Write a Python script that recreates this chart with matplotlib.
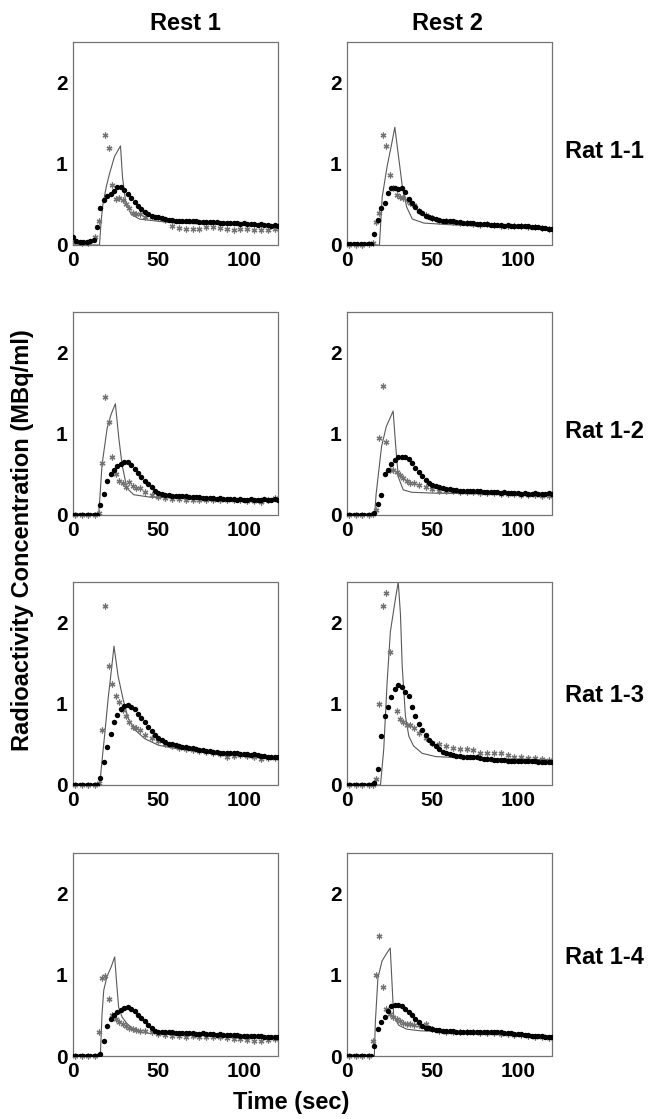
import numpy as np
import matplotlib.pyplot as plt

plt.rcParams['font.family'] = ['Liberation Sans', 'DejaVu Sans']
plt.rcParams['font.weight'] = 'bold'

# sampling times (sec)
DOT_T = list(range(0, 121, 2))
STAR_T = [1, 5, 9, 13, 15, 17, 19, 21, 23, 25, 27, 29, 31, 33, 35, 37, 39, 42, 46, 50,
          54, 58, 62, 66, 70, 74, 78, 82, 86, 90, 94, 98, 102, 106, 110, 114, 118]
nan = float('nan')

columns = ['Rest 1', 'Rest 2']
rats = ['Rat 1-1', 'Rat 1-2', 'Rat 1-3', 'Rat 1-4']

# ---- Rat 1-1, Rest 1
r11a_line_t = [0, 15.5, 16.5, 17.5, 19.5, 21.4, 24.3, 27.8, 29, 30.7, 34, 38.8, 46.6, 60, 90, 120]
r11a_line_y = [0, 0, 0.3, 0.5, 0.72, 0.88, 1.09, 1.22, 0.83, 0.55, 0.38, 0.32, 0.3, 0.27, 0.25, 0.23]
r11a_dots = [0.10, 0.05, 0.04, 0.04, 0.04, 0.05, 0.06, 0.22, 0.45, 0.56, 0.60, 0.63, 0.67, 0.71, 0.72,
             0.68, 0.63, 0.58, 0.53, 0.48, 0.44, 0.41, 0.38, 0.36, 0.35, 0.34, 0.33, 0.32, 0.31, 0.31,
             0.30, 0.30, 0.30, 0.30, 0.29, 0.29, 0.29, 0.28, 0.28, 0.28, 0.28, 0.28, 0.28, 0.27, 0.27,
             0.27, 0.27, 0.27, 0.27, 0.26, 0.27, 0.26, 0.26, 0.26, 0.25, 0.26, 0.25, 0.25, 0.24, 0.25, 0.24]
r11a_stars = [0.04, 0.03, 0.03, 0.10, 0.30, nan, 1.35, 1.20, 0.74, 0.57, 0.58, 0.55, 0.50, 0.45, 0.40,
              0.38, 0.38, 0.35, 0.34, 0.33, 0.31, 0.24, 0.21, 0.20, 0.20, 0.20, 0.22, 0.22, 0.21, 0.20,
              0.18, 0.20, 0.20, 0.18, 0.19, 0.18, 0.20]

# ---- Rat 1-1, Rest 2
r11b_line_t = [0, 19, 20.6, 23.5, 25.9, 28, 30.4, 32.4, 34.9, 38.2, 45, 60, 90, 120]
r11b_line_y = [0, 0, 0.59, 0.97, 1.22, 1.45, 1.05, 0.72, 0.47, 0.32, 0.27, 0.25, 0.22, 0.2]
r11b_dots = [0.01, 0.01, 0.01, 0.01, 0.01, 0.01, 0.01, 0.01, 0.13, 0.31, 0.46, 0.52, 0.64, 0.70, 0.70,
             0.69, 0.70, 0.65, 0.57, 0.52, 0.47, 0.42, 0.39, 0.36, 0.35, 0.33, 0.32, 0.31, 0.30, 0.30,
             0.29, 0.29, 0.28, 0.28, 0.27, 0.27, 0.27, 0.27, 0.26, 0.26, 0.26, 0.26, 0.25, 0.25, 0.25,
             0.25, 0.24, 0.25, 0.24, 0.24, 0.24, 0.23, 0.23, 0.23, 0.22, 0.22, 0.22, 0.21, 0.21, 0.20, 0.20]
r11b_stars = [0.0, 0.0, 0.0, 0.01, 0.02, 0.28, 0.40, 1.35, 1.22, 0.86, 0.70, 0.62, 0.59, 0.58, 0.55,
              0.52, 0.49, 0.42, 0.37, 0.33, 0.30, 0.29, 0.28, 0.27, 0.27, 0.26, 0.25, 0.26, 0.25, 0.24,
              0.24, 0.23, 0.23, 0.22, 0.22, 0.21, 0.20]

# ---- Rat 1-2, Rest 1
r12a_line_t = [0, 15, 16, 17, 20, 22.3, 24.8, 26.8, 28.7, 31.6, 35.5, 45, 60, 90, 120]
r12a_line_y = [0, 0, 0.3, 0.62, 1.07, 1.24, 1.37, 0.95, 0.62, 0.33, 0.25, 0.22, 0.21, 0.2, 0.2]
r12a_dots = [0.0, 0.0, 0.0, 0.0, 0.0, 0.0, 0.0, 0.0, 0.12, 0.26, 0.42, 0.50, 0.55, 0.60, 0.63,
             0.65, 0.65, 0.62, 0.57, 0.52, 0.47, 0.42, 0.38, 0.34, 0.30, 0.27, 0.26, 0.25, 0.25, 0.24,
             0.24, 0.23, 0.23, 0.23, 0.22, 0.22, 0.22, 0.22, 0.21, 0.21, 0.21, 0.21, 0.20, 0.21, 0.20,
             0.20, 0.20, 0.20, 0.19, 0.20, 0.19, 0.19, 0.20, 0.19, 0.19, 0.19, 0.20, 0.19, 0.19, 0.20, 0.19]
r12a_stars = [0.0, 0.0, 0.0, 0.0, 0.03, 0.64, 1.45, 1.15, 0.72, 0.50, 0.42, 0.39, 0.35, 0.41, 0.36,
              0.33, 0.33, 0.28, 0.25, 0.22, 0.21, 0.20, 0.20, 0.19, 0.18, 0.19, 0.18, 0.18, 0.19, 0.18,
              0.18, 0.18, 0.17, 0.17, 0.16, 0.18, 0.21]

# ---- Rat 1-2, Rest 2
r12b_line_t = [0, 16.2, 17, 18.2, 20.2, 23, 27, 28.4, 30, 32.9, 37.8, 50, 80, 120]
r12b_line_y = [0, 0, 0.25, 0.47, 0.84, 1.09, 1.28, 0.88, 0.47, 0.31, 0.28, 0.27, 0.26, 0.25]
r12b_dots = [0.0, 0.0, 0.0, 0.0, 0.0, 0.0, 0.0, 0.0, 0.02, 0.14, 0.25, 0.50, 0.55, 0.63, 0.68,
             0.71, 0.72, 0.71, 0.69, 0.64, 0.58, 0.53, 0.48, 0.43, 0.39, 0.37, 0.36, 0.34, 0.33, 0.32,
             0.32, 0.31, 0.31, 0.30, 0.30, 0.30, 0.29, 0.29, 0.29, 0.29, 0.28, 0.28, 0.28, 0.28, 0.28,
             0.27, 0.28, 0.27, 0.27, 0.27, 0.27, 0.26, 0.27, 0.26, 0.26, 0.27, 0.26, 0.26, 0.26, 0.27, 0.26]
r12b_stars = [0.0, 0.0, 0.0, 0.0, 0.01, 0.06, 0.95, 1.59, 0.90, 0.55, 0.55, 0.53, 0.49, 0.45, 0.42,
              0.40, 0.40, 0.37, 0.34, 0.32, 0.30, 0.29, 0.29, 0.28, 0.28, 0.28, 0.27, 0.27, 0.27, 0.26,
              0.26, 0.26, 0.25, 0.25, 0.25, 0.24, 0.24]

# ---- Rat 1-3, Rest 1
r13a_line_t = [0, 15.7, 16.6, 18.6, 20.5, 22.5, 24, 26.4, 29.4, 32.3, 36.2, 42, 50, 59.7, 75, 95, 120]
r13a_line_y = [0, 0, 0.22, 0.63, 1.05, 1.42, 1.71, 1.34, 1.05, 0.82, 0.68, 0.57, 0.49, 0.45, 0.41, 0.37, 0.32]
r13a_dots = [0.0, 0.0, 0.0, 0.0, 0.0, 0.0, 0.0, 0.0, 0.09, 0.28, 0.47, 0.63, 0.77, 0.86, 0.93,
             0.97, 0.98, 0.96, 0.93, 0.88, 0.82, 0.77, 0.72, 0.66, 0.61, 0.58, 0.55, 0.53, 0.51, 0.50,
             0.49, 0.48, 0.47, 0.47, 0.46, 0.45, 0.44, 0.43, 0.43, 0.42, 0.42, 0.41, 0.41, 0.40, 0.40,
             0.40, 0.39, 0.39, 0.39, 0.38, 0.38, 0.38, 0.37, 0.38, 0.37, 0.36, 0.36, 0.35, 0.35, 0.34, 0.34]
r13a_stars = [0.0, 0.0, 0.0, 0.0, 0.02, 0.68, 2.21, 1.46, 1.24, 1.10, 1.02, 0.92, 0.85, 0.77, 0.72,
              0.70, 0.68, 0.61, 0.58, 0.54, 0.51, 0.48, 0.46, 0.44, 0.43, 0.42, 0.41, 0.40, 0.38, 0.35,
              0.36, 0.37, 0.36, 0.35, 0.32, 0.33, 0.33]

# ---- Rat 1-3, Rest 2
r13b_line_t = [0, 19.6, 21.5, 23.5, 25.4, 28.4, 30, 31.3, 32.3, 34.2, 36.2, 39, 44, 51.9, 71.4, 120]
r13b_line_y = [0, 0, 0.44, 1.27, 1.89, 2.3, 2.5, 2.1, 1.47, 0.85, 0.6, 0.48, 0.39, 0.35, 0.33, 0.31]
r13b_dots = [0.0, 0.0, 0.0, 0.0, 0.0, 0.0, 0.0, 0.0, 0.03, 0.20, 0.60, 0.85, 0.96, 1.08, 1.18,
             1.23, 1.21, 1.15, 1.10, 0.96, 0.85, 0.75, 0.68, 0.62, 0.56, 0.52, 0.48, 0.44, 0.41, 0.39,
             0.38, 0.37, 0.36, 0.36, 0.35, 0.35, 0.35, 0.34, 0.34, 0.33, 0.32, 0.32, 0.32, 0.31, 0.31,
             0.31, 0.31, 0.30, 0.30, 0.30, 0.30, 0.30, 0.29, 0.29, 0.29, 0.29, 0.28, 0.28, 0.28, 0.28, 0.28]
r13b_stars = [0.0, 0.0, 0.0, 0.0, 0.0, 0.08, 1.00, 2.20, 2.37, 1.64, nan, 0.91, 0.81, 0.77, 0.74,
              0.74, 0.70, 0.64, 0.58, 0.52, 0.50, 0.48, 0.46, 0.44, 0.44, 0.43, 0.40, 0.40, 0.39, 0.39,
              0.37, 0.35, 0.35, 0.33, 0.33, 0.32, 0.31]

# ---- Rat 1-4, Rest 1
r14a_line_t = [0, 16, 17, 18, 19.9, 22.4, 24.4, 25.4, 26.7, 28.7, 31.6, 36.5, 44, 60, 90, 120]
r14a_line_y = [0, 0, 0.52, 0.81, 0.98, 1.1, 1.22, 0.94, 0.6, 0.48, 0.4, 0.31, 0.28, 0.27, 0.26, 0.24]
r14a_dots = [0.0, 0.0, 0.0, 0.0, 0.0, 0.0, 0.0, 0.0, 0.02, 0.19, 0.37, 0.45, 0.50, 0.54, 0.57,
             0.59, 0.60, 0.58, 0.55, 0.51, 0.47, 0.43, 0.38, 0.34, 0.31, 0.30, 0.30, 0.29, 0.29, 0.29,
             0.28, 0.28, 0.28, 0.28, 0.28, 0.28, 0.27, 0.27, 0.28, 0.27, 0.27, 0.27, 0.26, 0.27, 0.26,
             0.26, 0.26, 0.26, 0.26, 0.25, 0.25, 0.25, 0.25, 0.25, 0.25, 0.25, 0.24, 0.24, 0.24, 0.24, 0.24]
r14a_stars = [0.0, 0.0, 0.0, 0.0, 0.30, 0.96, 0.98, 0.70, 0.51, 0.46, 0.42, 0.40, 0.37, 0.34, 0.33,
              0.32, 0.31, 0.31, 0.29, 0.27, 0.26, 0.25, 0.25, 0.24, 0.25, 0.24, 0.23, 0.23, 0.23, 0.22,
              0.21, 0.21, 0.20, 0.19, 0.19, 0.20, 0.21]

# ---- Rat 1-4, Rest 2
r14b_line_t = [0, 16, 16.6, 18.1, 20.5, 23.4, 25.3, 26.3, 27.3, 30.2, 35, 43, 60, 90, 120]
r14b_line_y = [0, 0, 0.42, 0.96, 1.17, 1.27, 1.33, 0.92, 0.5, 0.38, 0.33, 0.31, 0.3, 0.28, 0.25]
r14b_dots = [0.0, 0.0, 0.0, 0.0, 0.0, 0.0, 0.0, 0.0, 0.12, 0.33, 0.42, 0.48, 0.56, 0.61, 0.63,
             0.63, 0.61, 0.58, 0.54, 0.50, 0.46, 0.42, 0.37, 0.35, 0.34, 0.33, 0.32, 0.32, 0.31, 0.31,
             0.31, 0.31, 0.30, 0.30, 0.30, 0.30, 0.30, 0.30, 0.30, 0.30, 0.30, 0.29, 0.29, 0.29, 0.29,
             0.29, 0.28, 0.28, 0.28, 0.27, 0.27, 0.27, 0.26, 0.26, 0.25, 0.25, 0.25, 0.25, 0.24, 0.24, 0.24]
r14b_stars = [0.0, 0.0, 0.0, 0.0, 0.18, 1.00, 1.48, 0.85, 0.58, 0.52, 0.48, 0.45, 0.43, 0.41, 0.40,
              0.39, 0.38, 0.38, 0.40, 0.33, 0.31, 0.30, 0.30, 0.29, 0.29, 0.29, 0.28, 0.28, 0.28, 0.27,
              0.27, 0.26, 0.26, 0.25, 0.24, 0.24, 0.22]

panels = [
    [(r11a_line_t, r11a_line_y, r11a_dots, r11a_stars), (r11b_line_t, r11b_line_y, r11b_dots, r11b_stars)],
    [(r12a_line_t, r12a_line_y, r12a_dots, r12a_stars), (r12b_line_t, r12b_line_y, r12b_dots, r12b_stars)],
    [(r13a_line_t, r13a_line_y, r13a_dots, r13a_stars), (r13b_line_t, r13b_line_y, r13b_dots, r13b_stars)],
    [(r14a_line_t, r14a_line_y, r14a_dots, r14a_stars), (r14b_line_t, r14b_line_y, r14b_dots, r14b_stars)],
]

W, H = 649, 1119
fig = plt.figure(figsize=(W / 100, H / 100), dpi=100)

col_left = [73, 347]
row_top = [42, 312, 582, 853]
ax_w, ax_h = 205, 203

for r in range(4):
    for c in range(2):
        lt, ly, dots, stars = panels[r][c]
        ax = fig.add_axes([col_left[c] / W, 1 - (row_top[r] + ax_h) / H, ax_w / W, ax_h / H])
        ax.plot(lt, ly, color='0.35', lw=0.8, zorder=2)
        ax.plot(STAR_T, stars, ls='none', marker=(6, 2, 0), ms=4.2, mew=0.9,
                color='0.45', zorder=3, clip_on=False)
        ax.plot(DOT_T, dots, ls='none', marker='o', ms=3.9, mec='none',
                color='black', zorder=4)
        ax.set_xlim(0, 120)
        ax.set_ylim(0, 2.5)
        ax.set_xticks([0, 50, 100])
        ax.set_yticks([0, 1, 2])
        ax.tick_params(length=0, labelsize=15, pad=4)
        for lab in ax.get_xticklabels() + ax.get_yticklabels():
            lab.set_fontweight('bold')
        for sp in ax.spines.values():
            sp.set_linestyle((0, (1, 1)))
            sp.set_color('0.45')
            sp.set_linewidth(0.9)

# column titles
fig.text(185 / W, 1 - 23 / H, columns[0], ha='center', va='center', fontsize=17, fontweight='bold')
fig.text(448 / W, 1 - 23 / H, columns[1], ha='center', va='center', fontsize=17, fontweight='bold')

# row labels
rat_y = [152, 432, 696, 958]
for name, y in zip(rats, rat_y):
    fig.text(565 / W, 1 - y / H, name, ha='left', va='center', fontsize=17, fontweight='bold')

fig.text(23 / W, 1 - 540 / H, 'Radioactivity Concentration (MBq/ml)', rotation=90,
         ha='center', va='center', fontsize=17, fontweight='bold')
fig.text(291 / W, 1 - 1103 / H, 'Time (sec)', ha='center', va='center', fontsize=17, fontweight='bold')

fig.savefig('out.png', dpi=100)
